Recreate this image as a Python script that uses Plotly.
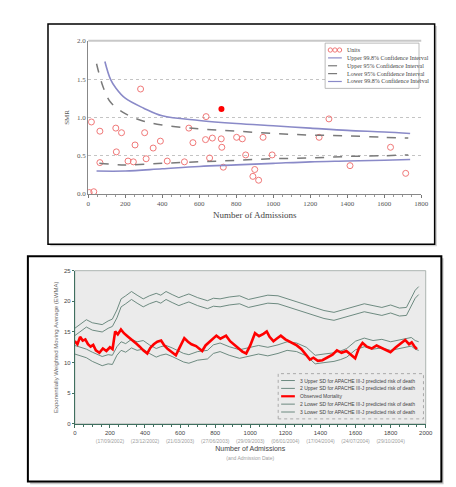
import plotly.graph_objects as go

# ---------------- Top chart (funnel plot of SMR) ----------------
unit_x = [283, 17, 63, 149, 180, 305, 152, 253, 390, 351, 544, 637, 63,
          215, 244, 313, 427, 566, 634, 671, 719, 722, 802, 833, 945, 520,
          656, 851, 994, 730, 900, 890, 921, 5, 30, 1301, 1248, 1634, 1415, 1716]
unit_y = [1.37, 0.94, 0.82, 0.86, 0.80, 0.80, 0.55, 0.64, 0.69, 0.60, 0.86, 1.01, 0.41,
          0.43, 0.42, 0.46, 0.43, 0.67, 0.71, 0.73, 0.72, 0.61, 0.74, 0.72, 0.74, 0.42,
          0.47, 0.51, 0.51, 0.35, 0.32, 0.23, 0.18, 0.02, 0.03, 0.98, 0.74, 0.61, 0.37, 0.27]
outlier_x = [720]
outlier_y = [1.11]

up998_x = [90, 120, 150, 200, 300, 400, 600, 800, 1000, 1200, 1400, 1600, 1740]
up998_y = [1.73, 1.50, 1.38, 1.25, 1.12, 1.02, 0.96, 0.92, 0.89, 0.86, 0.83, 0.81, 0.79]
up95_x = [45, 80, 120, 200, 300, 400, 600, 800, 1000, 1200, 1400, 1600, 1730]
up95_y = [1.70, 1.40, 1.20, 1.05, 0.95, 0.90, 0.85, 0.82, 0.79, 0.77, 0.76, 0.74, 0.73]
lo95_x = [60, 200, 400, 600, 800, 1000, 1200, 1400, 1600, 1730]
lo95_y = [0.40, 0.38, 0.40, 0.42, 0.44, 0.46, 0.47, 0.49, 0.50, 0.51]
lo998_x = [45, 200, 400, 600, 800, 1000, 1200, 1400, 1600, 1740]
lo998_y = [0.30, 0.30, 0.33, 0.36, 0.38, 0.40, 0.42, 0.43, 0.44, 0.45]

top_xticks = [0, 200, 400, 600, 800, 1000, 1200, 1400, 1600, 1800]
top_yticks = [0.0, 0.5, 1.0, 1.5, 2.0]
top_names = ["Units", "Upper 99.8% Confidence Interval", "Upper 95% Confidence Interval",
             "Lower 95% Confidence Interval", "Lower 99.8% Confidence Interval"]

# ---------------- Bottom chart (EWMA) ----------------
obs_x = [0, 15, 30, 45, 60, 75, 90, 105, 120, 140, 160, 180, 200, 215, 230, 245, 263, 280,
         300, 328, 350, 370, 390, 413, 430, 450, 470, 492, 510, 530, 555, 576, 600, 624,
         645, 665, 691, 710, 726, 745, 770, 790, 807, 830, 862, 885, 911, 935, 955, 977,
         1000, 1027, 1050, 1075, 1094, 1110, 1132, 1150, 1174, 1200, 1220, 1240, 1265,
         1292, 1315, 1340, 1360, 1385, 1411, 1440, 1469, 1494, 1520, 1548, 1575, 1598,
         1620, 1640, 1665, 1692, 1720, 1747, 1775, 1799, 1830, 1860, 1883, 1905, 1920,
         1934, 1950]
obs_y = [13.5, 13.0, 14.2, 13.6, 13.8, 13.0, 12.6, 12.9, 12.0, 11.6, 12.3, 11.9, 12.5, 12.2,
         15.1, 14.6, 15.4, 14.8, 14.3, 13.7, 13.1, 12.6, 12.0, 11.5, 12.4, 13.0, 13.4, 13.6,
         12.8, 12.2, 11.7, 11.2, 12.6, 14.0, 13.4, 13.0, 12.7, 12.3, 11.9, 12.8, 13.5, 14.0,
         14.4, 13.9, 14.4, 13.5, 12.9, 12.3, 11.8, 11.5, 12.8, 14.8, 14.3, 14.7, 15.1, 14.2,
         13.5, 13.9, 14.4, 13.8, 13.5, 13.2, 12.8, 12.2, 11.4, 10.5, 10.8, 10.3, 10.4, 10.9,
         11.3, 12.0, 11.6, 11.9, 11.2, 10.7, 12.4, 13.2, 12.6, 12.3, 12.8, 12.4, 12.1, 11.7,
         12.5, 13.1, 13.7, 13.0, 13.3, 12.7, 12.2]

band_x = [0, 30, 66, 100, 156, 190, 214, 240, 264, 290, 323, 355, 390, 425, 464, 490, 520,
          555, 593, 620, 650, 700, 756, 790, 828, 880, 939, 990, 1047, 1100, 1158, 1210,
          1264, 1320, 1370, 1420, 1477, 1515, 1550, 1600, 1650, 1700, 1750, 1800, 1850,
          1890, 1918, 1940, 1960]
up3_y = [15.6, 16.2, 17.0, 16.5, 16.2, 16.8, 17.1, 18.6, 20.4, 20.9, 21.6, 21.0, 20.4, 20.9,
         21.3, 21.0, 21.6, 21.1, 20.6, 20.9, 21.2, 20.6, 20.1, 20.5, 20.4, 20.7, 20.9, 20.3,
         20.6, 21.0, 20.9, 20.4, 20.0, 19.4, 18.9, 18.5, 18.2, 18.5, 18.7, 19.2, 19.6, 19.3,
         19.0, 19.4, 18.9, 19.0, 20.6, 21.8, 22.4]
up2_y = [14.4, 15.0, 15.8, 15.3, 15.0, 15.6, 15.9, 17.3, 19.1, 19.6, 20.3, 19.7, 19.1, 19.6,
         20.0, 19.7, 20.3, 19.8, 19.3, 19.6, 19.9, 19.3, 18.8, 19.2, 19.1, 19.4, 19.6, 19.0,
         19.3, 19.7, 19.6, 19.1, 18.7, 18.1, 17.6, 17.2, 16.9, 17.2, 17.4, 17.9, 18.3, 18.0,
         17.7, 18.1, 17.6, 17.7, 19.3, 20.5, 21.1]
lo2_y = [12.8, 12.5, 12.2, 11.7, 11.0, 11.3, 11.2, 12.6, 13.4, 13.1, 13.8, 13.4, 13.6, 12.9,
         12.3, 12.6, 12.8, 12.4, 11.9, 11.5, 11.3, 11.8, 12.0, 12.9, 13.2, 12.6, 12.1, 12.4,
         12.8, 12.5, 12.9, 13.4, 13.2, 12.5, 11.2, 11.4, 11.6, 11.9, 12.3, 13.5, 14.0, 13.6,
         13.8, 13.4, 13.7, 13.9, 14.1, 13.6, 13.4]
lo3_y = [11.4, 11.1, 10.8, 10.2, 9.5, 9.8, 9.7, 11.2, 12.0, 11.7, 12.4, 12.0, 12.2, 11.5,
         10.9, 11.2, 11.4, 11.0, 10.5, 10.1, 9.9, 10.4, 10.6, 11.5, 11.8, 11.2, 10.7, 11.0,
         11.4, 11.1, 11.5, 12.0, 11.8, 11.1, 9.8, 10.0, 10.2, 10.5, 10.9, 12.1, 12.6, 12.2,
         12.4, 12.0, 12.3, 12.5, 12.7, 12.2, 12.0]

bot_xticks = [0, 200, 400, 600, 800, 1000, 1200, 1400, 1600, 1800, 2000]
bot_xdates = ["", "(17/09/2002)", "(23/12/2002)", "(21/03/2003)", "(27/06/2003)",
              "(29/09/2003)", "(06/01/2004)", "(17/04/2004)", "(24/07/2004)",
              "(29/10/2004)", ""]
bot_yticks = [0, 5, 10, 15, 20, 25]
bot_names = ["3 Upper SD for APACHE III-J predicted risk of death",
             "2 Upper SD for APACHE III-J predicted risk of death",
             "Observed Mortality",
             "2 Lower SD for APACHE III-J predicted risk of death",
             "3 Lower SD for APACHE III-J predicted risk of death"]

W, H = 456, 487
SERIF = "Liberation Serif"
SANS = "Liberation Sans"
C_LIMIT = "#8a8ac8"
C_DASH = "#7a7a7a"
C_UNIT = "#f07878"
C_BAND = "#5f7f74"
C_OBS = "#ff0000"

top_styles = [dict(kind="circles", color=C_UNIT),
              dict(kind="line", color=C_LIMIT, width=1.2, dash="solid"),
              dict(kind="line", color=C_DASH, width=1.2, dash="dash"),
              dict(kind="line", color=C_DASH, width=1.2, dash="dash"),
              dict(kind="line", color=C_LIMIT, width=1.2, dash="solid")]
bot_styles = [dict(kind="line", color=C_BAND, width=0.9, dash="solid"),
              dict(kind="line", color=C_BAND, width=0.9, dash="solid"),
              dict(kind="line", color=C_OBS, width=2.2, dash="solid"),
              dict(kind="line", color=C_BAND, width=0.9, dash="solid"),
              dict(kind="line", color=C_BAND, width=0.9, dash="solid")]

fig = go.Figure()

# ---- top traces ----
fig.add_trace(go.Scatter(x=unit_x, y=unit_y, mode="markers", name=top_names[0],
                         marker=dict(symbol="circle-open", size=6, color=C_UNIT,
                                     line=dict(width=1)), xaxis="x", yaxis="y"))
fig.add_trace(go.Scatter(x=outlier_x, y=outlier_y, mode="markers", name="Outlier",
                         marker=dict(size=6, color=C_OBS), xaxis="x", yaxis="y"))
fig.add_trace(go.Scatter(x=up998_x, y=up998_y, mode="lines", line_shape="spline",
                         name=top_names[1], line=dict(color=C_LIMIT, width=1.6),
                         xaxis="x", yaxis="y"))
fig.add_trace(go.Scatter(x=up95_x, y=up95_y, mode="lines", line_shape="spline",
                         name=top_names[2], line=dict(color=C_DASH, width=1.5, dash="dash"),
                         xaxis="x", yaxis="y"))
fig.add_trace(go.Scatter(x=lo95_x, y=lo95_y, mode="lines", line_shape="spline",
                         name=top_names[3], line=dict(color=C_DASH, width=1.5, dash="dash"),
                         xaxis="x", yaxis="y"))
fig.add_trace(go.Scatter(x=lo998_x, y=lo998_y, mode="lines", line_shape="spline",
                         name=top_names[4], line=dict(color=C_LIMIT, width=1.6),
                         xaxis="x", yaxis="y"))

# ---- bottom traces ----
for yv, nm, st in [(up3_y, bot_names[0], bot_styles[0]), (up2_y, bot_names[1], bot_styles[1]),
                   (lo2_y, bot_names[3], bot_styles[3]), (lo3_y, bot_names[4], bot_styles[4])]:
    fig.add_trace(go.Scatter(x=band_x, y=yv, mode="lines", name=nm,
                             line=dict(color=st["color"], width=st["width"]),
                             xaxis="x2", yaxis="y2"))
fig.add_trace(go.Scatter(x=obs_x, y=obs_y, mode="lines", name=bot_names[2],
                         line=dict(color=C_OBS, width=2.6), xaxis="x2", yaxis="y2"))

bot_ticktext = [f"{v}" if not d else f"{v}<br><span style='font-size:5px;color:#a0a0a0'>{d}</span>"
                for v, d in zip(bot_xticks, bot_xdates)]

shapes = [
    # top photo frame (shadow + frame)
    dict(type="rect", xref="paper", yref="paper", x0=0.09, x1=0.955, y0=0.511, y1=0.971,
         fillcolor="#d0d0d0", line=dict(width=0), layer="below"),
    dict(type="rect", xref="paper", yref="paper", x0=0.085, x1=0.95, y0=0.515, y1=0.975,
         fillcolor="white", line=dict(color="black", width=1.5), layer="below"),
    # bottom photo frame
    dict(type="rect", xref="paper", yref="paper", x0=0.045, x1=0.97, y0=0.014, y1=0.486,
         fillcolor="#c8c8c8", line=dict(width=0), layer="below"),
    dict(type="rect", xref="paper", yref="paper", x0=0.04, x1=0.965, y0=0.02, y1=0.49,
         fillcolor="white", line=dict(color="black", width=2), layer="below"),
    # grey plotting area of bottom chart
    dict(type="rect", xref="x2 domain", yref="y2 domain", x0=0, x1=1, y0=0, y1=1,
         fillcolor="#ebebeb", line=dict(color="#9aa5a0", width=0.8), layer="below"),
    # top border of the funnel plot area
    dict(type="line", xref="x domain", yref="y domain", x0=0, x1=1, y0=1, y1=1,
         line=dict(color="#c8c8c8", width=2), layer="below"),
]
annotations = []


def build_legend(x0, x1, y_top, row_px, names, styles, font, bg, border, dash_border):
    """Compact legend box (Plotly's built-in legend has a 16px minimum row height)."""
    pad = 3
    h = pad * 2 + row_px * len(names)
    shapes.append(dict(type="rect", xref="paper", yref="paper", x0=x0, x1=x1,
                       y0=y_top - h / H, y1=y_top, fillcolor=bg,
                       line=dict(color=border, width=0.8, dash=dash_border)))
    for i, (nm, st) in enumerate(zip(names, styles)):
        yc = y_top - (pad + row_px * (i + 0.5)) / H
        sx0 = x0 + 3 / W
        sx1 = sx0 + 14 / W
        if st["kind"] == "line":
            shapes.append(dict(type="line", xref="paper", yref="paper", x0=sx0, x1=sx1,
                               y0=yc, y1=yc,
                               line=dict(color=st["color"], width=st["width"], dash=st["dash"])))
        else:
            for k in range(3):
                cx = sx0 + (2.3 + 4.7 * k) / W
                shapes.append(dict(type="circle", xref="paper", yref="paper",
                                   x0=cx - 2.2 / W, x1=cx + 2.2 / W,
                                   y0=yc - 2.2 / H, y1=yc + 2.2 / H,
                                   line=dict(color=st["color"], width=1)))
        annotations.append(dict(text=nm, xref="paper", yref="paper", x=sx1 + 3 / W, y=yc,
                                xanchor="left", yanchor="middle", showarrow=False,
                                font=font))


build_legend(0.705, 0.915, 0.935, 8, top_names, top_styles,
             dict(family=SERIF, size=6, color="#444"), "white", "#aaa", "solid")
build_legend(0.60, 0.925, 0.245, 8, bot_names, bot_styles,
             dict(family=SANS, size=5, color="#444"), "#ebebeb", "#999", "dot")

fig.update_layout(
    width=W, height=H,
    margin=dict(l=0, r=0, t=0, b=0),
    paper_bgcolor="white",
    plot_bgcolor="rgba(0,0,0,0)",
    showlegend=False,
    shapes=shapes,
    annotations=annotations,
    xaxis=dict(domain=[0.175, 0.92], anchor="y", range=[0, 1800],
               tickvals=top_xticks, ticks="outside", ticklen=3, tickcolor="#777",
               minor=dict(dtick=50, ticks="outside", ticklen=2, tickcolor="#999"),
               showline=True, linecolor="#888", linewidth=1, showgrid=False, zeroline=False,
               tickfont=dict(family=SERIF, size=7, color="#555"),
               title=dict(text="Number of Admissions", standoff=4,
                          font=dict(family=SERIF, size=9, color="#444"))),
    yaxis=dict(domain=[0.62, 0.94], anchor="x", range=[0, 2.0],
               tickvals=top_yticks, tickformat=".1f", ticks="", showline=True,
               linecolor="#888", linewidth=1, showgrid=True, gridcolor="#c4c4c4",
               griddash="dot", gridwidth=1, zeroline=False,
               tickfont=dict(family=SERIF, size=7, color="#555"),
               title=dict(text="SMR", standoff=6,
                          font=dict(family=SERIF, size=7, color="#555"))),
    xaxis2=dict(domain=[0.145, 0.93], anchor="y2", range=[0, 2000],
                tickvals=bot_xticks, ticktext=bot_ticktext, ticks="outside", ticklen=3,
                tickcolor="#3f6f5f",
                minor=dict(dtick=50, ticks="outside", ticklen=2, tickcolor="#3f6f5f"),
                showline=True, linecolor="#3f6f5f", linewidth=1, showgrid=False,
                zeroline=False, tickfont=dict(family=SANS, size=6, color="#444"),
                title=dict(text="Number of Admissions<br><span style='font-size:5px;color:#a0a0a0'>(and Admission Date)</span>",
                           standoff=3, font=dict(family=SANS, size=7, color="#444"))),
    yaxis2=dict(domain=[0.14, 0.46], anchor="x2", range=[0, 25],
                tickvals=bot_yticks, ticksuffix="%", ticks="outside", ticklen=2,
                tickcolor="#3f6f5f", showline=True, linecolor="#3f6f5f", linewidth=1,
                showgrid=False, zeroline=False,
                tickfont=dict(family=SANS, size=6, color="#444"),
                title=dict(text="Exponentially Weighted Moving Average (EWMA)", standoff=4,
                           font=dict(family=SANS, size=6, color="#666"))),
)

fig.write_html("out.html")
